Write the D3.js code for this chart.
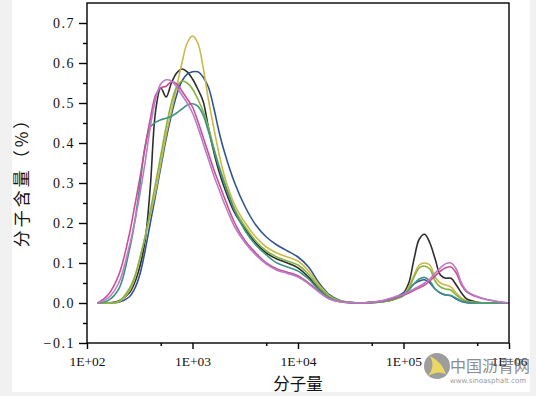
<!DOCTYPE html>
<html><head><meta charset="utf-8">
<script src="https://cdn.jsdelivr.net/npm/d3@7"></script>
<style>
html,body{margin:0;padding:0;background:#f1f1f1;}
svg{display:block;}
</style></head><body>
<svg id="c" width="536" height="396"></svg>
<script>
// Molecular weight grid (shared x values)
const mw = [126,158,200,251,282,316,355,398,447,501,562,631,708,794,891,1000,1122,1259,1413,1585,1778,1995,2512,3162,3981,5012,6310,7943,10000,12589,15849,19953,25119,31623,39811,50119,63096,79433,100000,112202,125893,141254,158489,177828,199526,223872,251189,281838,316228,354813,398107,501187,630957,794328,1000000];

const blackVals = [0,0,0.005,0.025,0.05,0.09,0.155,0.29,0.48,0.5375,0.515,0.55,0.575,0.585,0.578,0.56,0.535,0.505,0.44,0.38,0.33,0.29,0.225,0.185,0.15,0.125,0.11,0.1,0.088,0.065,0.035,0.015,0.004,0.001,0,0.001,0.003,0.008,0.025,0.05,0.11,0.16,0.172,0.15,0.11,0.07,0.062,0.062,0.045,0.025,0.01,0.002,0,0,0];
const blueVals = [0,0,0.002,0.015,0.035,0.07,0.13,0.2,0.27,0.34,0.41,0.47,0.52,0.555,0.572,0.578,0.578,0.565,0.54,0.49,0.43,0.38,0.3,0.24,0.195,0.165,0.145,0.13,0.115,0.09,0.05,0.02,0.006,0.001,0,0.002,0.005,0.012,0.025,0.035,0.048,0.055,0.058,0.05,0.035,0.025,0.02,0.018,0.01,0.004,0.001,0,0,0,0];
const goldVals = [0,0,0.003,0.03,0.06,0.11,0.165,0.22,0.28,0.35,0.42,0.48,0.54,0.6,0.65,0.6675,0.65,0.59,0.51,0.44,0.375,0.32,0.245,0.2,0.165,0.14,0.125,0.115,0.105,0.08,0.045,0.018,0.005,0.001,0,0.001,0.003,0.008,0.02,0.04,0.07,0.095,0.1,0.095,0.065,0.05,0.045,0.04,0.025,0.012,0.005,0.001,0,0,0];
const greenVals = [0,0,0.004,0.035,0.065,0.11,0.165,0.23,0.3,0.37,0.44,0.5,0.54,0.555,0.55,0.535,0.51,0.48,0.44,0.39,0.345,0.305,0.235,0.19,0.155,0.13,0.115,0.105,0.095,0.072,0.04,0.016,0.005,0.001,0,0.001,0.003,0.008,0.018,0.035,0.065,0.088,0.092,0.085,0.055,0.04,0.035,0.032,0.02,0.01,0.004,0.001,0,0,0];
const tealVals = [0,0.006,0.035,0.13,0.2,0.29,0.39,0.44,0.452,0.458,0.462,0.467,0.475,0.485,0.495,0.498,0.492,0.47,0.43,0.385,0.34,0.3,0.23,0.18,0.145,0.12,0.1,0.09,0.08,0.06,0.032,0.012,0.003,0.001,0,0.001,0.004,0.01,0.02,0.032,0.048,0.06,0.064,0.055,0.035,0.025,0.02,0.019,0.012,0.005,0.002,0,0,0,0];
const magentaVals = [0,0.02,0.07,0.17,0.24,0.31,0.39,0.46,0.52,0.538,0.542,0.553,0.548,0.53,0.51,0.49,0.455,0.415,0.375,0.335,0.3,0.265,0.2,0.155,0.125,0.1,0.085,0.077,0.068,0.05,0.028,0.01,0.003,0.001,0,0.002,0.005,0.012,0.02,0.025,0.032,0.038,0.045,0.055,0.068,0.08,0.088,0.09,0.075,0.045,0.028,0.015,0.008,0.003,0];
const lavenderVals = [0,0.012,0.05,0.14,0.2,0.27,0.35,0.44,0.51,0.548,0.558,0.555,0.54,0.52,0.5,0.475,0.44,0.4,0.36,0.32,0.285,0.25,0.19,0.15,0.12,0.097,0.082,0.074,0.065,0.048,0.027,0.01,0.003,0.001,0,0.002,0.006,0.014,0.022,0.028,0.035,0.042,0.05,0.06,0.075,0.088,0.098,0.1,0.085,0.05,0.03,0.016,0.008,0.003,0];

const seriesNames = ["black","blue","gold","green","teal","magenta","lavender"];
const seriesValues = [blackVals, blueVals, goldVals, greenVals, tealVals, magentaVals, lavenderVals];
const seriesColors = ["#2e2e2e","#2f5590","#cdb84a","#86b444","#3f9483","#cc4f93","#b87cc8"];

const xTickValues = [100,1000,10000,100000,1000000];
const xTickLabels = ["1E+02","1E+03","1E+04","1E+05","1E+06"];
const xMinorTicks = [500,5000,50000,500000];
const yTickValues = [-0.1,0,0.1,0.2,0.3,0.4,0.5,0.6,0.7];
const yTickLabels = ["\u22120.1","0.0","0.1","0.2","0.3","0.4","0.5","0.6","0.7"];
const yMinorTicks = [-0.05,0.05,0.15,0.25,0.35,0.45,0.55,0.65];
const xTitle = "分子量";
const yTitle = "分子含量（%）";

const svg = d3.select("#c");
svg.append("rect").attr("x",12).attr("y",0).attr("width",518).attr("height",392).attr("fill","#fff");

const L = 87, R = 509, T = 3, B = 343;
const x = d3.scaleLog().domain([100,1000000]).range([L,R]);
const y = d3.scaleLinear().domain([-0.1,0.75]).range([B,T]);

const plot = svg.append("g");
const line = d3.line().x((d)=>x(d[0])).y((d)=>y(d[1])).curve(d3.curveCatmullRom.alpha(0.5));
seriesValues.forEach((vals,i)=>{
  plot.append("path")
    .datum(mw.map((m,j)=>[m,vals[j]]))
    .attr("fill","none")
    .attr("stroke",seriesColors[i])
    .attr("stroke-width",1.6)
    .attr("stroke-linejoin","round")
    .attr("d",line);
});

// axes
const fontSerif = "'Liberation Serif','DejaVu Serif',serif";
const xAxis = svg.append("g").attr("transform",`translate(0,${B})`)
  .call(d3.axisBottom(x).tickValues(xTickValues).tickFormat((d,i)=>xTickLabels[i]).tickSize(6).tickPadding(7).tickSizeOuter(0));
const xMinor = svg.append("g").attr("transform",`translate(0,${B})`)
  .call(d3.axisBottom(x).tickValues(xMinorTicks).tickFormat("").tickSize(3).tickSizeOuter(0));
const yAxis = svg.append("g").attr("transform",`translate(${L},0)`)
  .call(d3.axisLeft(y).tickValues(yTickValues).tickFormat((d,i)=>yTickLabels[i]).tickSize(8).tickPadding(4).tickSizeOuter(0));
const yMinor = svg.append("g").attr("transform",`translate(${L},0)`)
  .call(d3.axisLeft(y).tickValues(yMinorTicks).tickFormat("").tickSize(4).tickSizeOuter(0));
[xAxis,xMinor,yAxis,yMinor].forEach(g=>{
  g.select(".domain").remove();
  g.selectAll(".tick line").attr("stroke","#000").attr("stroke-width",1.4);
  g.selectAll("text").attr("font-family",fontSerif).attr("font-size",14).attr("fill","#111");
});
yAxis.selectAll("text").attr("letter-spacing","1.5px");
xAxis.selectAll("text").attr("font-size",13.5);

svg.append("rect").attr("x",L).attr("y",T).attr("width",R-L).attr("height",B-T)
  .attr("fill","none").attr("stroke","#000").attr("stroke-width",1.4);

const cjk = "'Noto Sans CJK SC','Noto Sans',sans-serif";
svg.append("text").attr("x",298).attr("y",390).attr("text-anchor","middle")
  .attr("font-family",cjk).attr("font-size",16.5).attr("fill","#111").text(xTitle);
svg.append("text").attr("transform","translate(28,178) rotate(-90)").attr("text-anchor","middle")
  .attr("font-family",cjk).attr("font-size",17).attr("letter-spacing","3px").attr("fill","#111").text(yTitle);

// watermark
const wm = svg.append("g").attr("opacity",0.85);
wm.append("circle").attr("cx",437).attr("cy",366).attr("r",13).attr("fill","#8c8c8c");
wm.append("path").attr("d","M428,376 Q436,366 430,356 Q442,362 446,374 Q438,370 428,376Z").attr("fill","#e8d24a");
wm.append("text").attr("x",450).attr("y",372).attr("font-family",cjk).attr("font-size",16).attr("fill","#6a6a6a").attr("opacity",0.9).text("中国沥青网");
wm.append("text").attr("x",450).attr("y",383).attr("font-family","'DejaVu Sans',sans-serif").attr("font-size",7).attr("fill","#8a8a8a").text("www.sinoasphalt.com");
</script>
</body></html>
